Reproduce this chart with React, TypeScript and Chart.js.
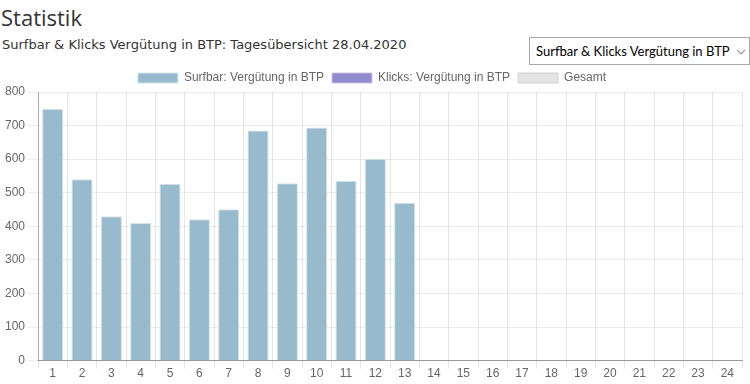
import React, { useEffect, useRef } from "react";
import { Chart, registerables } from "chart.js";

Chart.register(...registerables);

const categories: string[] = Array.from({ length: 24 }, (_, i) => String(i + 1));
const surfbarValues: (number | null)[] = [750, 540, 430, 410, 527, 421, 451, 685, 528, 694, 536, 601, 470,
  null, null, null, null, null, null, null, null, null, null, null];
const klicksValues: (number | null)[] = Array(24).fill(null);
const gesamtValues: (number | null)[] = Array(24).fill(null);
const seriesLabels = ["Surfbar: Vergütung in BTP", "Klicks: Vergütung in BTP", "Gesamt"];
const yTicks = { min: 0, max: 800, step: 100 };

const legendHeightTweak = {
  id: "legendHeightTweak",
  beforeLayout(chart: any) {
    const lg: any = chart.legend;
    if (lg && !lg.__patched) {
      const orig = lg.fit;
      lg.fit = function () {
        orig.call(this);
        this.height -= 2;
      };
      lg.__patched = true;
    }
  },
};

export default function App() {
  const ref = useRef<HTMLCanvasElement | null>(null);

  useEffect(() => {
    document.body.style.margin = "0";
    if (!ref.current) return;
    const chart = new Chart(ref.current, {
      type: "bar",
      data: {
        labels: categories,
        datasets: [
          {
            label: seriesLabels[0],
            data: surfbarValues,
            backgroundColor: "rgb(151,186,204)",
            borderColor: "rgb(212,228,237)",
            borderWidth: 1,
          },
          {
            label: seriesLabels[1],
            data: klicksValues,
            backgroundColor: "rgb(146,138,206)",
            borderColor: "rgb(200,196,232)",
            borderWidth: 1,
          },
          {
            label: seriesLabels[2],
            data: gesamtValues,
            backgroundColor: "rgb(229,229,229)",
            borderColor: "rgb(208,208,208)",
            borderWidth: 1,
          },
        ],
      },
      plugins: [legendHeightTweak],
      options: {
        animation: false,
        responsive: false,
        maintainAspectRatio: false,
        layout: { padding: { left: 2, right: 8, top: 0, bottom: 0 } },
        plugins: {
          legend: {
            display: true,
            position: "top",
            labels: {
              boxWidth: 40,
              boxHeight: 10,
              color: "#666",
              font: { family: "'Liberation Sans', Arial, sans-serif", size: 12 },
              padding: 8,
            },
          },
          tooltip: { enabled: false },
        },
        scales: {
          x: {
            stacked: true,
            grid: { color: "rgba(0,0,0,0.1)", offset: true, tickLength: 8 },
            border: { color: "rgba(0,0,0,0.35)" },
            ticks: {
              color: "#666",
              padding: -2,
              font: { family: "'Liberation Sans', Arial, sans-serif", size: 12 },
              maxRotation: 0,
              autoSkip: false,
            },
          },
          y: {
            stacked: true,
            min: yTicks.min,
            max: yTicks.max,
            grid: { color: "rgba(0,0,0,0.08)", tickLength: 10 },
            border: { color: "rgba(0,0,0,0.25)" },
            ticks: {
              stepSize: yTicks.step,
              color: "#666",
              font: { family: "'Liberation Sans', Arial, sans-serif", size: 12 },
            },
          },
        },
      },
    });
    return () => chart.destroy();
  }, []);

  return (
    <div style={{ position: "relative", width: 750, height: 384, overflow: "hidden", background: "#fff" }}>
      <div
        style={{
          position: "absolute",
          left: 1,
          top: 3,
          fontFamily: "'Open Sans', 'Noto Sans', sans-serif",
          fontSize: 22,
          color: "#333",
          lineHeight: "28px",
        }}
      >
        Statistik
      </div>
      <div
        style={{
          position: "absolute",
          left: 2,
          top: 37,
          fontFamily: "'DejaVu Sans', Verdana, sans-serif",
          fontSize: 13,
          color: "#333",
          lineHeight: "16px",
          whiteSpace: "nowrap",
        }}
      >
        Surfbar &amp; Klicks Vergütung in BTP: Tagesübersicht 28.04.2020
      </div>
      <div
        style={{
          position: "absolute",
          left: 529,
          top: 37,
          width: 219,
          height: 26,
          border: "1px solid #a9a9a9",
          background: "#fff",
          boxSizing: "content-box",
          fontFamily: "Lato, 'Noto Sans', sans-serif",
          fontSize: 13,
          color: "#000",
          lineHeight: "26px",
          whiteSpace: "nowrap",
        }}
      >
        <span style={{ position: "absolute", left: 6, top: 0 }}>Surfbar &amp; Klicks Vergütung in BTP</span>
        <svg style={{ position: "absolute", right: 3, top: 11 }} width="10" height="6" viewBox="0 0 10 6">
          <polyline points="1,1 5,5 9,1" fill="none" stroke="#999" strokeWidth="1.1" />
        </svg>
      </div>
      <div style={{ position: "absolute", left: 0, top: 64, width: 750, height: 315 }}>
        <canvas ref={ref} width={750} height={315} style={{ width: 750, height: 315 }} />
      </div>
    </div>
  );
}
